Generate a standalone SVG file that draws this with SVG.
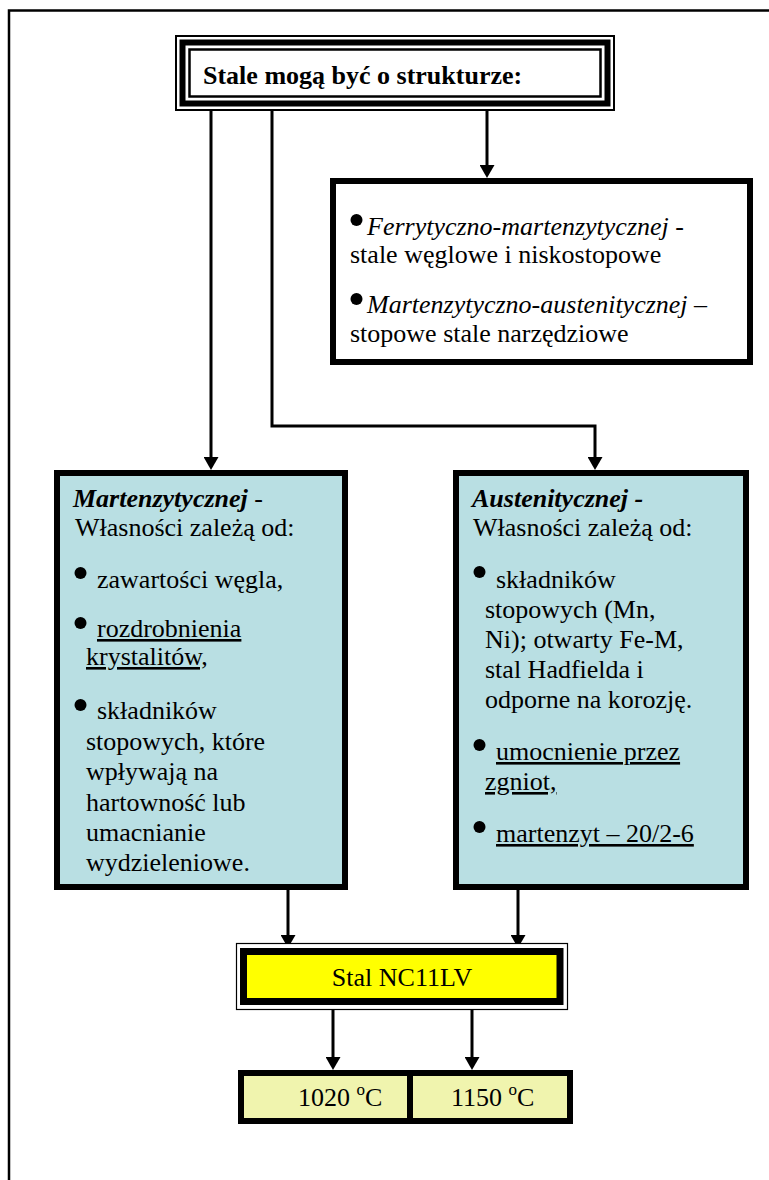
<svg xmlns="http://www.w3.org/2000/svg" width="769" height="1180" viewBox="0 0 769 1180">
  <style>
    .t { font-family: "Liberation Serif", "Times New Roman", serif; font-size: 26px; fill: #000; }
    .bi { font-weight: bold; font-style: italic; }
    .it { font-style: italic; }
    .u { text-decoration: underline; text-decoration-skip-ink: none; }
    .box { stroke: #000; stroke-width: 6; }
    .teal { fill: #B9DFE3; }
    .conn { fill: none; stroke: #000; stroke-width: 3; }
  </style>
  <defs>
    <marker id="ah" markerWidth="13" markerHeight="15" refX="0" refY="7.5" orient="auto" markerUnits="userSpaceOnUse" viewBox="0 0 13 15">
      <path d="M0,0 L13,7.5 L0,15 z" fill="#000"/>
    </marker>
  </defs>
  <rect width="769" height="1180" fill="#fff"/>
  <path d="M9,1180 V10.5 H769" fill="none" stroke="#000" stroke-width="2.5"/>

  <g id="title">
    <rect x="176" y="36" width="438" height="74" fill="#fff" stroke="#000" stroke-width="2"/>
    <rect x="182.5" y="42.5" width="425" height="61" fill="none" stroke="#000" stroke-width="6"/>
    <rect x="189.5" y="49.5" width="411" height="47" fill="#fff" stroke="#000" stroke-width="2.5"/>
    <text class="t" x="203" y="84" font-weight="bold" font-size="26.6">Stale mogą być o strukturze:</text>
  </g>

  <g id="connectors">
    <path class="conn" d="M211,111 V457" marker-end="url(#ah)"/>
    <path class="conn" d="M272,111 V426 H595 V457" marker-end="url(#ah)"/>
    <path class="conn" d="M487,111 V165" marker-end="url(#ah)"/>
    <path class="conn" d="M288,890 V935" marker-end="url(#ah)"/>
    <path class="conn" d="M518,890 V935" marker-end="url(#ah)"/>
    <path class="conn" d="M333,1010 V1057" marker-end="url(#ah)"/>
    <path class="conn" d="M472,1010 V1057" marker-end="url(#ah)"/>
  </g>

  <g id="mixed">
    <rect class="box" x="333" y="181" width="417" height="181" fill="#fff"/>
    <circle cx="356.5" cy="220" r="6"/>
    <text class="t" x="367" y="235"><tspan class="it">Ferrytyczno-martenzytycznej</tspan> -</text>
    <text class="t" x="350" y="263">stale węglowe i niskostopowe</text>
    <circle cx="356.5" cy="299" r="6"/>
    <text class="t" x="367" y="313"><tspan class="it">Martenzytyczno-austenitycznej</tspan> –</text>
    <text class="t" x="350" y="342">stopowe stale narzędziowe</text>
  </g>

  <g id="martensitic">
    <rect class="box teal" x="57" y="473" width="288" height="414"/>
    <text class="t" x="73" y="507"><tspan class="bi">Martenzytycznej</tspan> -</text>
    <text class="t" x="75" y="536">Własności zależą od:</text>
    <circle cx="80.5" cy="573" r="6"/>
    <text class="t" x="97" y="588">zawartości węgla,</text>
    <circle cx="80.5" cy="623" r="6"/>
    <text class="t u" x="97" y="637">rozdrobnienia</text>
    <text class="t u" x="86" y="665">krystalitów,</text>
    <circle cx="80.5" cy="705" r="6"/>
    <text class="t" x="97" y="719">składników</text>
    <text class="t" x="86" y="750">stopowych, które</text>
    <text class="t" x="86" y="780">wpływają na</text>
    <text class="t" x="86" y="811">hartowność lub</text>
    <text class="t" x="86" y="841">umacnianie</text>
    <text class="t" x="86" y="871">wydzieleniowe.</text>
  </g>

  <g id="austenitic">
    <rect class="box teal" x="456" y="473" width="290" height="414"/>
    <text class="t bi" x="472" y="507">Austenitycznej -</text>
    <text class="t" x="473" y="536">Własności zależą od:</text>
    <circle cx="479.5" cy="572" r="6"/>
    <text class="t" x="496" y="588">składników</text>
    <text class="t" x="485" y="618">stopowych (Mn,</text>
    <text class="t" x="485" y="648">Ni); otwarty Fe-M,</text>
    <text class="t" x="485" y="678">stal Hadfielda i</text>
    <text class="t" x="485" y="708">odporne na korozję.</text>
    <circle cx="479.5" cy="745" r="6"/>
    <text class="t u" x="496" y="760">umocnienie przez</text>
    <text class="t u" x="485" y="790">zgniot,</text>
    <circle cx="479.5" cy="827" r="6"/>
    <text class="t u" x="496" y="842">martenzyt – 20/2-6</text>
  </g>

  <g id="stal">
    <rect x="236.5" y="943.5" width="331" height="66" fill="#fff" stroke="#000" stroke-width="1.2"/>
    <rect x="243.5" y="951.5" width="316.5" height="50" fill="#FFFF00" stroke="#000" stroke-width="7"/>
    <text class="t" x="402" y="986" text-anchor="middle">Stal NC11LV</text>
  </g>

  <g id="t1020">
    <rect class="box" x="241" y="1073" width="169" height="48" fill="#F0F4AE"/>
    <text class="t" x="298" y="1106">1020 <tspan font-size="17" dy="-11">o</tspan><tspan dy="11">C</tspan></text>
  </g>
  <g id="t1150">
    <rect class="box" x="410" y="1073" width="160" height="48" fill="#F0F4AE"/>
    <text class="t" x="451" y="1106">1150 <tspan font-size="17" dy="-11">o</tspan><tspan dy="11">C</tspan></text>
  </g>
</svg>
